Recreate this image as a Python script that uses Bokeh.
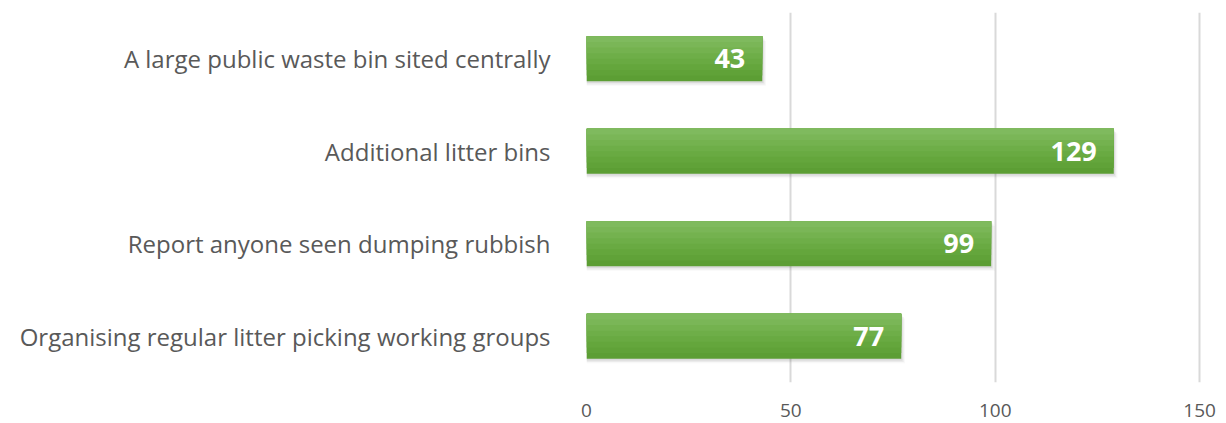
from bokeh.plotting import figure
from bokeh.models import ColumnDataSource, FactorRange, Range1d, FixedTicker
from bokeh.transform import dodge
from bokeh.core.properties import value
from bokeh.embed import file_html
from bokeh.resources import INLINE

categories = [
    "A large public waste bin sited centrally",
    "Additional litter bins",
    "Report anyone seen dumping rubbish",
    "Organising regular litter picking working groups",
]
values = [43, 129, 99, 77]
ticks = [0, 50, 100, 150]

src = ColumnDataSource(dict(cat=categories, val=values, lbl=[str(v) for v in values]))

p = figure(
    width=1218, height=423,
    y_range=FactorRange(*reversed(categories)),
    x_range=Range1d(0, 151.2),
    output_backend="svg", toolbar_location=None,
    min_border_left=586, min_border_right=14, min_border_top=12, min_border_bottom=41,
)
p.outline_line_color = None
p.background_fill_color = "white"
p.border_fill_color = "white"

# grid
p.ygrid.grid_line_color = None
p.xgrid.ticker = FixedTicker(ticks=ticks)
p.xgrid.grid_line_color = "#d9d9d9"
p.xgrid.grid_line_width = 2

# x axis
p.xaxis.ticker = FixedTicker(ticks=ticks)
p.xaxis.axis_line_color = None
p.xaxis.major_tick_line_color = None
p.xaxis.minor_tick_line_color = None
p.xaxis.major_label_text_font = "Open Sans"
p.xaxis.major_label_text_font_size = "19px"
p.xaxis.major_label_text_color = "#595959"
p.xaxis.major_label_standoff = 15

# y axis
p.yaxis.axis_line_color = None
p.yaxis.major_tick_line_color = None
p.yaxis.minor_tick_line_color = None
p.yaxis.major_label_text_font = "Open Sans"
p.yaxis.major_label_text_font_size = "24px"
p.yaxis.major_label_text_color = "#595959"
p.yaxis.major_label_standoff = 30

BAR_H = 0.486

# soft shadow
for k, a in enumerate([0.10, 0.07, 0.04]):
    p.hbar(y=dodge("cat", -0.02 - 0.015 * k, range=p.y_range), right=dodge("val", 0.3 + 0.3 * k), left=0,
           height=BAR_H, source=src, fill_color="#404040", fill_alpha=a, line_color=None)

# vertical gradient: nested top-anchored bars, darkest (full height) first
cols = ["#5c9e34", "#60a238", "#64a63c", "#69aa42", "#6eae48", "#74b24f", "#7ab657", "#7fba5e"]
n = len(cols)
for i, c in enumerate(cols):
    h = BAR_H * (n - i) / n
    off = BAR_H / 2 - h / 2
    p.hbar(y=dodge("cat", off, range=p.y_range), right="val", left=0, height=h,
           source=src, fill_color=c, line_color=None)

p.text(x="val", y="cat", text="lbl", source=src, x_offset=-17,
       text_align="right", text_baseline="middle",
       text_font=value("Open Sans"), text_font_style="bold", text_font_size="27px",
       text_color="white")

open("out.html", "w").write(file_html(p, INLINE))
